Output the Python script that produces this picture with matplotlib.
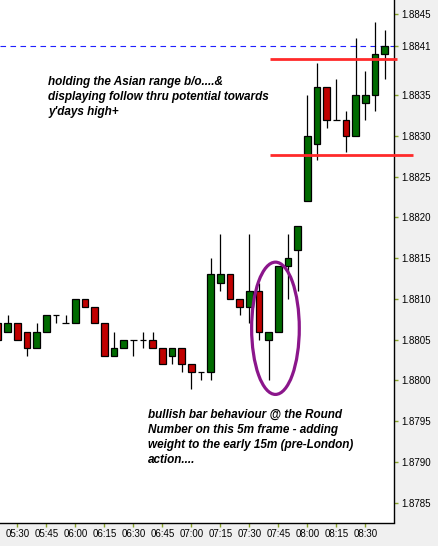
import numpy as np
import matplotlib.pyplot as plt
from matplotlib.patches import Ellipse

# 5 minute bars, 05:20 - 08:40
times = ['05:20', '05:25', '05:30', '05:35', '05:40', '05:45', '05:50', '05:55',
         '06:00', '06:05', '06:10', '06:15', '06:20', '06:25', '06:30', '06:35',
         '06:40', '06:45', '06:50', '06:55', '07:00', '07:05', '07:10', '07:15',
         '07:20', '07:25', '07:30', '07:35', '07:40', '07:45', '07:50', '07:55',
         '08:00', '08:05', '08:10', '08:15', '08:20', '08:25', '08:30', '08:35',
         '08:40']
opens = [1.8807, 1.8806, 1.8807, 1.8806, 1.8804, 1.8806, 1.8808, 1.8807,
         1.8807, 1.8810, 1.8809, 1.8807, 1.8803, 1.8804, 1.8805, 1.8805,
         1.8805, 1.8804, 1.8803, 1.8804, 1.8802, 1.8801, 1.8801, 1.8812,
         1.8813, 1.8810, 1.8809, 1.8811, 1.8805, 1.8806, 1.8814, 1.8816,
         1.8822, 1.8829, 1.8836, 1.8832, 1.8832, 1.8830, 1.8834, 1.8835,
         1.8840]
highs = [1.8807, 1.8808, 1.8807, 1.8806, 1.8807, 1.8808, 1.8808, 1.8808,
         1.8810, 1.8810, 1.8809, 1.8807, 1.8806, 1.8805, 1.8805, 1.8806,
         1.8806, 1.8804, 1.8804, 1.8804, 1.8802, 1.8801, 1.8815, 1.8818,
         1.8813, 1.8810, 1.8818, 1.8812, 1.8806, 1.8814, 1.8818, 1.8819,
         1.8835, 1.8839, 1.8836, 1.8837, 1.8833, 1.8842, 1.8838, 1.8844,
         1.8843]
lows = [1.8805, 1.8806, 1.8805, 1.8803, 1.8804, 1.8806, 1.8807, 1.8807,
        1.8807, 1.8809, 1.8807, 1.8803, 1.8803, 1.8804, 1.8803, 1.8804,
        1.8804, 1.8802, 1.8802, 1.8801, 1.8799, 1.8800, 1.8800, 1.8811,
        1.8810, 1.8808, 1.8807, 1.8805, 1.8800, 1.8806, 1.8810, 1.8811,
        1.8822, 1.8827, 1.8831, 1.8832, 1.8828, 1.8830, 1.8832, 1.8833,
        1.8837]
closes = [1.8805, 1.8807, 1.8805, 1.8804, 1.8806, 1.8808, 1.8808, 1.8807,
          1.8810, 1.8809, 1.8807, 1.8803, 1.8804, 1.8805, 1.8805, 1.8805,
          1.8804, 1.8802, 1.8804, 1.8802, 1.8801, 1.8801, 1.8813, 1.8813,
          1.8810, 1.8809, 1.8811, 1.8806, 1.8806, 1.8814, 1.8815, 1.8819,
          1.8830, 1.8836, 1.8832, 1.8832, 1.8830, 1.8835, 1.8835, 1.8840,
          1.8841]

last_price = 1.8841
price_ticks = [1.8785, 1.8790, 1.8795, 1.8800, 1.8805, 1.8810, 1.8815,
               1.8820, 1.8825, 1.8830, 1.8835, 1.8841, 1.8845]
time_ticks = ['05:30', '05:45', '06:00', '06:15', '06:30', '06:45', '07:00',
              '07:15', '07:30', '07:45', '08:00', '08:15', '08:30']

# hand drawn levels (price, first bar, last bar)
levels = [(1.88394, 28.1, 41.3), (1.88277, 28.1, 42.9)]

note_top = "holding the Asian range b/o....&\ndisplaying follow thru potential towards\ny'days high+"
note_bottom = ("bullish bar behaviour @ the Round\nNumber on this 5m frame - adding\n"
               "weight to the early 15m (pre-London)\naction....")

plt.rcParams['font.family'] = ['Liberation Sans', 'DejaVu Sans']

fig = plt.figure(figsize=(4.39, 5.46), dpi=100, facecolor='#f0f0f0')
ax = fig.add_axes([0, 23.5 / 546, 394 / 439, 522.5 / 546])
ax.set_facecolor('white')

x = np.arange(len(times))
o = np.array(opens)
c = np.array(closes)
up = c >= o
colors = np.where(up, '#006b00', '#c00000')

ax.vlines(x, lows, highs, color='black', lw=0.9, zorder=1)
ax.bar(x, np.abs(c - o), bottom=np.minimum(o, c), width=0.7, color=colors,
       edgecolor='black', linewidth=0.9, zorder=2)

# last price line
ax.axhline(last_price, color='#2020ff', lw=0.8, ls=(0, (5, 4)), zorder=0)

# red levels
for lvl, x0, x1 in levels:
    ax.plot([x0, x1], [lvl, lvl], color='#ff2a2a', lw=2.0, solid_capstyle='butt',
            clip_on=False, zorder=3)

# circle round the round-number bars
ax.add_patch(Ellipse((28.7, 1.88064), 4.93, 0.001623, fill=False,
                     edgecolor='#8b168b', lw=2.3, zorder=4))

ax.set_xlim(0.21, 40.96)
ax.set_ylim(1.878257, 1.884668)

ax.yaxis.tick_right()
ax.set_yticks(price_ticks)
ax.set_yticklabels(['%.4f' % p for p in price_ticks])
for lab, p in zip(ax.get_yticklabels(), price_ticks):
    if p == last_price:
        lab.set_color('#2020ff')

ax.set_xticks([times.index(t) for t in time_ticks])
ax.set_xticklabels(time_ticks)

ax.tick_params(axis='both', colors='#8aa52a', labelcolor='black', labelsize=7,
               length=3, width=1, pad=2)

for side in ['top', 'left']:
    ax.spines[side].set_visible(False)
for side in ['right', 'bottom']:
    ax.spines[side].set_color('black')
    ax.spines[side].set_linewidth(1.0)

fig.text(48 / 439, 1 - 76 / 546, note_top, fontsize=8.5, fontweight='bold',
         fontstyle='italic', va='top', ha='left', linespacing=1.32)
fig.text(148 / 439, 1 - 409 / 546, note_bottom, fontsize=8.5, fontweight='bold',
         fontstyle='italic', va='top', ha='left', linespacing=1.32)

fig.savefig('out.png', dpi=100, facecolor=fig.get_facecolor())
